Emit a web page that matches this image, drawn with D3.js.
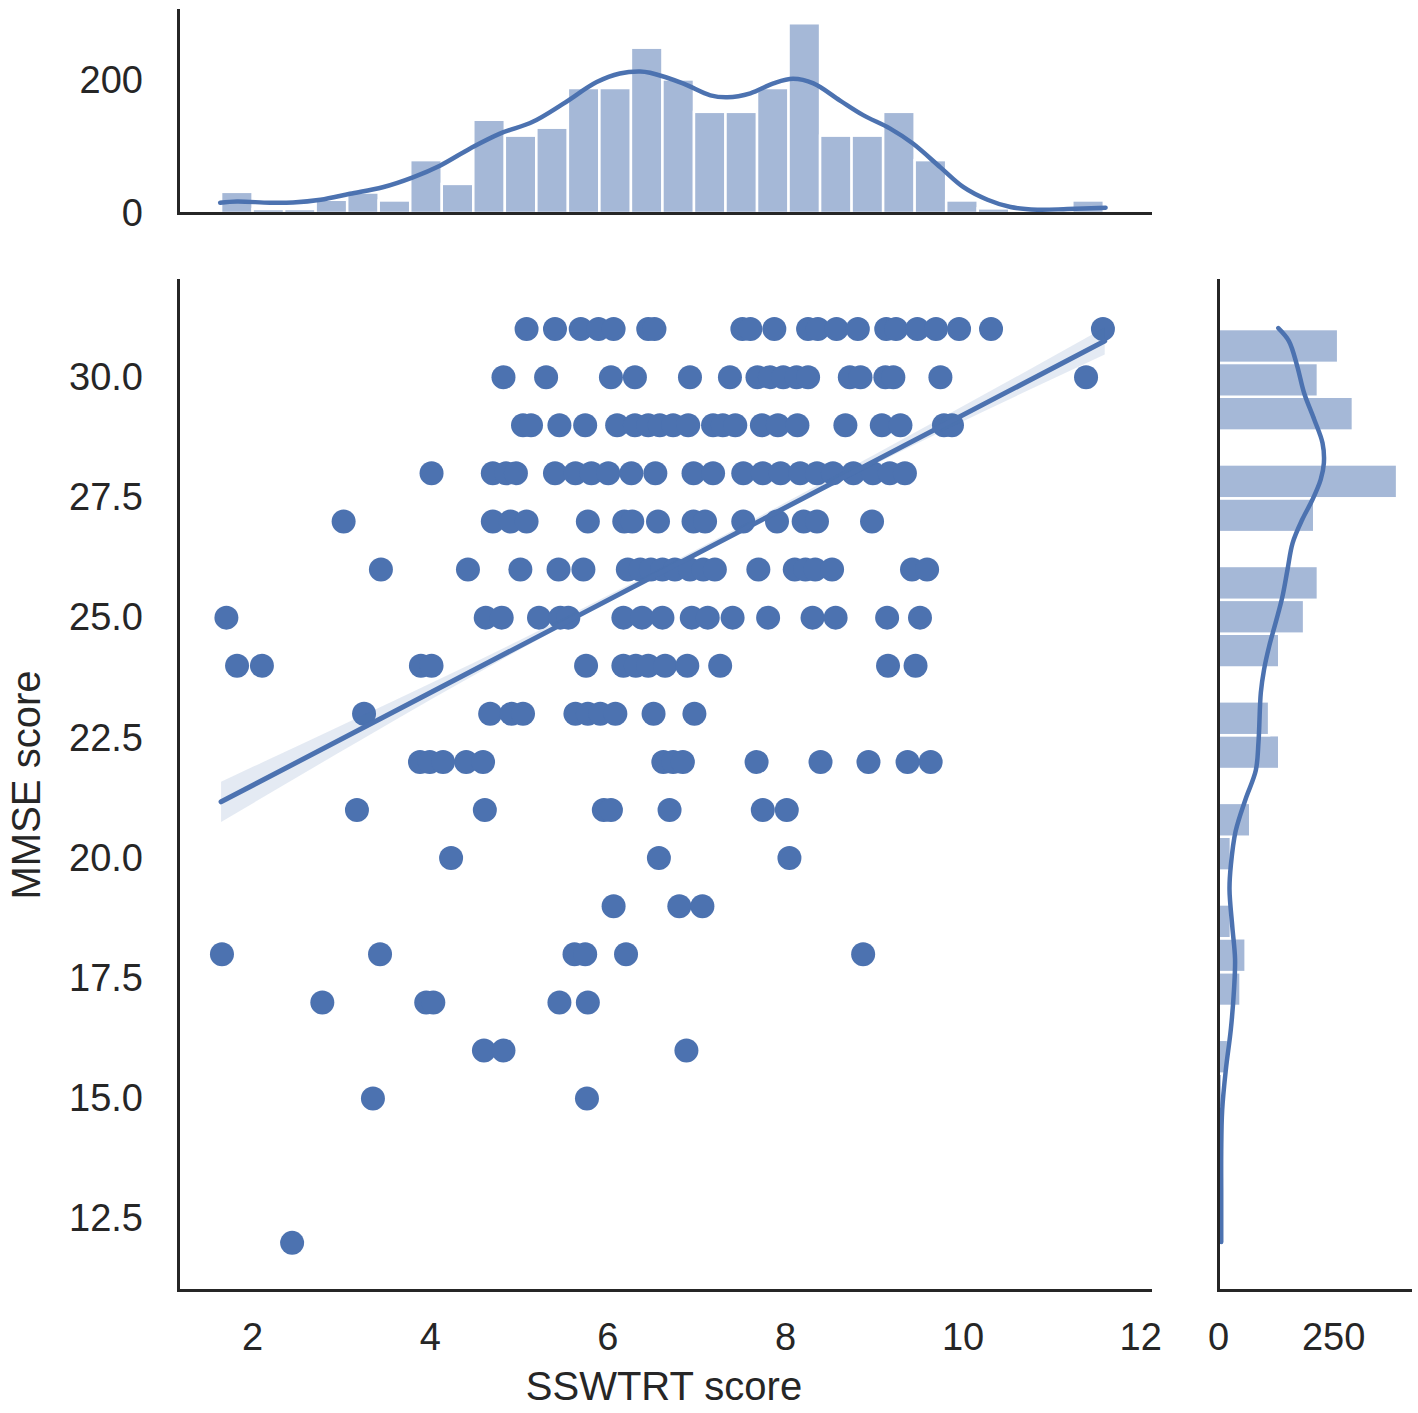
<!DOCTYPE html>
<html><head><meta charset="utf-8">
<script src="https://cdn.jsdelivr.net/npm/d3@7"></script>
<style>
body{margin:0;background:#fff}
svg{display:block}
text{font-family:"Liberation Sans",Arial,Helvetica,sans-serif;fill:#262626}
</style>
</head><body><svg id="c" width="1418" height="1413"></svg>
<script>
// ---------- DATA ----------
const mmseLevels = [31,30,29,28,27,26,25,24,23,22,21,20,19,18,17,16,15,12];
const sswtrtByLevel = [
  [5.09,5.41,5.70,5.90,6.07,6.46,6.53,7.52,7.61,7.88,8.26,8.37,8.58,8.82,9.14,9.25,9.49,9.70,9.96,10.32,11.58],
  [4.83,5.31,6.04,6.31,6.93,7.38,7.69,7.83,7.98,8.13,8.26,8.73,8.85,9.13,9.22,9.75,11.39],
  [5.05,5.14,5.46,5.75,6.11,6.31,6.46,6.59,6.74,6.91,7.19,7.30,7.44,7.74,7.92,8.14,8.68,9.09,9.30,9.79,9.88],
  [4.02,4.71,4.86,4.97,5.41,5.64,5.82,6.01,6.27,6.54,6.97,7.19,7.53,7.75,7.95,8.17,8.36,8.54,8.77,8.99,9.18,9.35],
  [3.03,4.71,4.91,5.09,5.78,6.19,6.28,6.57,6.97,7.10,7.53,7.91,8.21,8.36,8.98],
  [3.45,4.43,5.02,5.45,5.73,6.23,6.37,6.49,6.62,6.76,6.93,7.08,7.21,7.70,8.11,8.23,8.34,8.53,9.43,9.60],
  [1.71,4.63,4.81,5.23,5.47,5.56,6.18,6.39,6.62,6.95,7.13,7.41,7.81,8.31,8.57,9.15,9.52],
  [1.83,2.11,3.90,4.02,5.76,6.18,6.32,6.46,6.65,6.90,7.27,9.16,9.47],
  [3.26,4.68,4.92,5.05,5.64,5.78,5.92,6.09,6.52,6.98],
  [3.89,4.00,4.15,4.41,4.60,6.63,6.74,6.85,7.68,8.40,8.94,9.38,9.64],
  [3.18,4.62,5.96,6.04,6.70,7.75,8.02],
  [4.24,6.58,8.05],
  [6.07,6.81,7.07],
  [1.66,3.44,5.63,5.75,6.21,8.88],
  [2.79,3.96,4.04,5.46,5.78],
  [4.61,4.83,6.89],
  [3.36,5.77],
  [2.45]
];

// regression line and confidence band
const regX = [1.65, 11.60];
const regY = [21.17, 30.75];
const ciX  = [1.65, 3.2, 5.0, 7.0, 9.0, 11.60];
const ciLo = [20.75, 22.43, 24.32, 26.29, 28.18, 30.47];
const ciHi = [21.59, 22.93, 24.52, 26.41, 28.38, 31.03];

// top marginal histogram (SSWTRT score)
const topBinLo = 1.65, topBinHi = 11.59;
const topCounts = [32,6,6,20,31,19,80,44,141,117,129,189,189,250,202,153,153,189,287,117,117,153,80,19,7,0,0,19];
const topKdeX = [1.64,1.83,2.20,2.46,2.77,3.10,3.47,3.81,4.12,4.46,4.79,5.16,5.50,5.88,6.14,6.37,6.48,6.85,7.16,7.35,7.61,7.87,8.09,8.32,8.62,8.88,9.18,9.44,9.75,10.01,10.28,10.54,10.84,11.18,11.61];
const topKdeY = [15.5,17.4,15.5,15.9,20,29,39,54,72,98,120,138,165,198,211,214,212,196,178,175,181,196,203,196,170,148,128,105,69,39,20,9,5,6,8];

// right marginal histogram (MMSE score)
const rightBinLo = 12, rightBinHi = 31;
const rightCounts = [5,0,0,0,9,22,0,49,60,28,0,28,70,0,133,111,0,133,187,217,0,209,389,0,293,217,261];
const rightKdeY = [31.02,30.75,30.23,29.67,29.12,28.63,28.22,27.87,27.45,27.04,26.55,26.00,25.44,24.89,24.40,23.92,23.44,22.42,21.82,21.23,20.55,19.86,19.35,18.58,17.91,17.30,16.45,15.60,14.75,13.90,13.04,12.02];
const rightKdeC = [131,154,172,187,209,227,230,223,205,183,162,151,140,125,111,100,93,88,82,60,38,28,25,31,37,35,28,17,9,7,7,7];

// ticks and labels
const xTicks = [2,4,6,8,10,12];
const yTicks = [12.5,15,17.5,20,22.5,25,27.5,30];
const topTicks = [0,200];
const rightTicks = [0,250];
const xLabel = "SSWTRT score";
const yLabel = "MMSE score";

// ---------- LAYOUT ----------
const BLUE = "#4c72b0", INK = "#262626";
const main = {l:178, r:1150, t:280, b:1290};
const topM = {t:10, b:213};
const rightM = {l:1218, r:1410};

const svg = d3.select("#c");
const x = d3.scaleLinear().domain([1.165, 12.11]).range([main.l, main.r]);
const y = d3.scaleLinear().domain([11.02, 32.02]).range([main.b, main.t]);
const yTop = d3.scaleLinear().domain([0, 307]).range([topM.b, topM.t]);
const xRight = d3.scaleLinear().domain([0, 417]).range([rightM.l, rightM.r]);

// ---------- TOP MARGINAL ----------
const tw = (topBinHi - topBinLo) / topCounts.length;
const topBins = topCounts.map((c,i)=>({x0: topBinLo + i*tw, x1: topBinLo + (i+1)*tw, c}));
svg.append("g").selectAll("rect").data(topBins.filter(d=>d.c>0)).join("rect")
  .attr("x", d=>x(d.x0)).attr("width", d=>x(d.x1)-x(d.x0))
  .attr("y", d=>yTop(d.c)).attr("height", d=>yTop(0)-yTop(d.c))
  .attr("fill", BLUE).attr("fill-opacity", 0.5)
  .attr("stroke", "#fff").attr("stroke-width", 2.5);
svg.append("path")
  .datum(topKdeX.map((v,i)=>[v, topKdeY[i]]))
  .attr("d", d3.line().x(d=>x(d[0])).y(d=>yTop(d[1])).curve(d3.curveCatmullRom))
  .attr("fill","none").attr("stroke", BLUE).attr("stroke-width", 4.5).attr("stroke-linecap","round");

// ---------- RIGHT MARGINAL ----------
const rh = (rightBinHi - rightBinLo) / rightCounts.length;
const rightBins = rightCounts.map((c,i)=>({y0: rightBinLo + i*rh, y1: rightBinLo + (i+1)*rh, c}));
svg.append("g").selectAll("rect").data(rightBins.filter(d=>d.c>0)).join("rect")
  .attr("y", d=>y(d.y1)).attr("height", d=>y(d.y0)-y(d.y1))
  .attr("x", xRight(0)).attr("width", d=>xRight(d.c)-xRight(0))
  .attr("fill", BLUE).attr("fill-opacity", 0.5)
  .attr("stroke", "#fff").attr("stroke-width", 2.5);
svg.append("path")
  .datum(rightKdeY.map((v,i)=>[rightKdeC[i], v]))
  .attr("d", d3.line().x(d=>xRight(d[0])).y(d=>y(d[1])).curve(d3.curveCatmullRom))
  .attr("fill","none").attr("stroke", BLUE).attr("stroke-width", 4.5).attr("stroke-linecap","round");

// ---------- MAIN SCATTER ----------
const points = [];
mmseLevels.forEach((lv,i)=>sswtrtByLevel[i].forEach(v=>points.push([v, lv])));
svg.append("g").selectAll("circle").data(points).join("circle")
  .attr("cx", d=>x(d[0])).attr("cy", d=>y(d[1])).attr("r", 12)
  .attr("fill", BLUE);

// CI band
svg.append("path")
  .datum(ciX.map((v,i)=>[v, ciLo[i], ciHi[i]]))
  .attr("d", d3.area().x(d=>x(d[0])).y0(d=>y(d[1])).y1(d=>y(d[2])).curve(d3.curveMonotoneX))
  .attr("fill", BLUE).attr("fill-opacity", 0.15);
// regression line
svg.append("path")
  .datum(regX.map((v,i)=>[v, regY[i]]))
  .attr("d", d3.line().x(d=>x(d[0])).y(d=>y(d[1])))
  .attr("stroke", BLUE).attr("stroke-width", 5).attr("stroke-linecap","round").attr("fill","none");

// ---------- AXES ----------
function styleAxis(g){
  g.select(".domain").attr("stroke", INK).attr("stroke-width", 3);
  g.selectAll("text").attr("font-size", 38).attr("fill", INK)
   .style("font-family", '"Liberation Sans", Arial, sans-serif');
}
// main
svg.append("g").attr("transform", `translate(0,${main.b})`)
  .call(d3.axisBottom(x).tickValues(xTicks).tickFormat(d3.format("d")).tickSize(0).tickPadding(33))
  .call(styleAxis);
svg.append("g").attr("transform", `translate(${main.l},0)`)
  .call(d3.axisLeft(y).tickValues(yTicks).tickFormat(d3.format(".1f")).tickSize(0).tickPadding(35))
  .call(styleAxis);
// top marginal
svg.append("g").attr("transform", `translate(0,${topM.b})`)
  .call(d3.axisBottom(x).tickValues([]).tickSize(0))
  .call(styleAxis);
svg.append("g").attr("transform", `translate(${main.l},0)`)
  .call(d3.axisLeft(yTop).tickValues(topTicks).tickFormat(d3.format("d")).tickSize(0).tickPadding(35))
  .call(styleAxis);
// right marginal
svg.append("g").attr("transform", `translate(0,${main.b})`)
  .call(d3.axisBottom(xRight).tickValues(rightTicks).tickFormat(d3.format("d")).tickSize(0).tickPadding(33))
  .call(styleAxis);
svg.append("g").attr("transform", `translate(${rightM.l},0)`)
  .call(d3.axisLeft(y).tickValues([]).tickSize(0))
  .call(styleAxis);
svg.selectAll(".domain").attr("stroke-linecap","square");

// labels
svg.append("text").attr("x", (main.l+main.r)/2).attr("y", 1400)
  .attr("text-anchor","middle").attr("font-size", 40).text(xLabel);
svg.append("text").attr("transform", `translate(40,${(main.t+main.b)/2}) rotate(-90)`)
  .attr("text-anchor","middle").attr("font-size", 40).text(yLabel);
</script></body></html>
